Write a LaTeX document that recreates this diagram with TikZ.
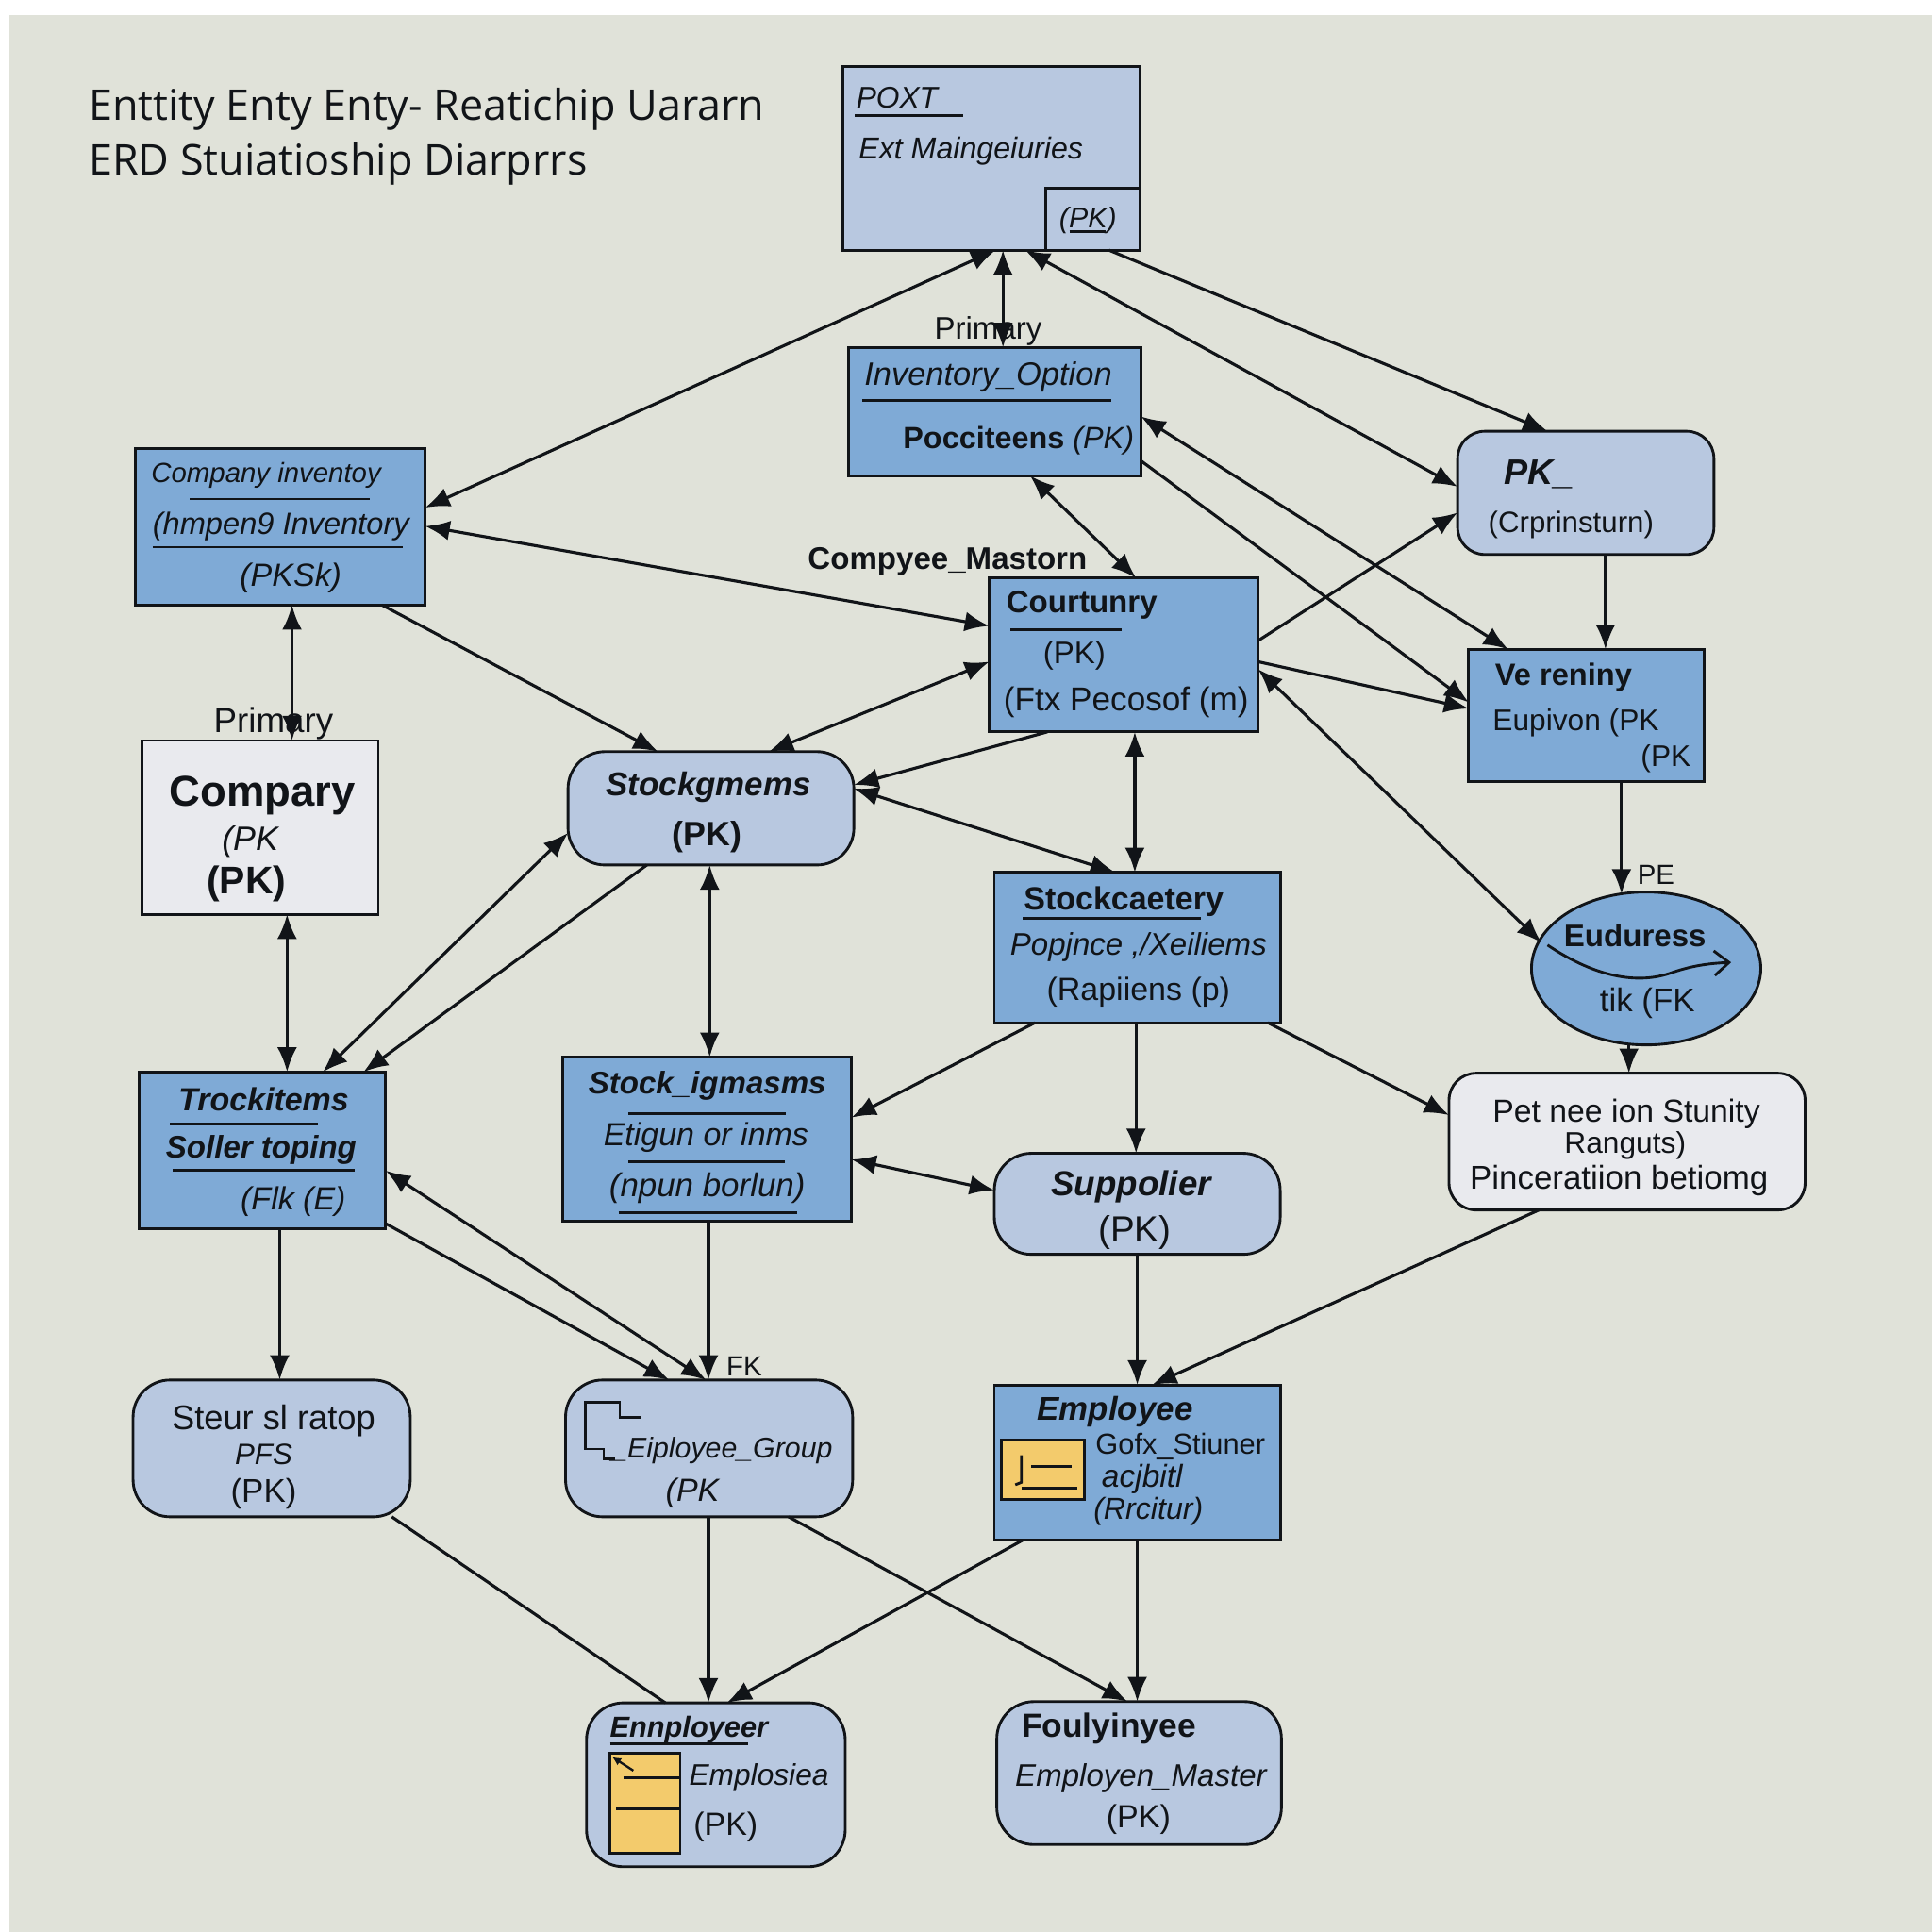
\documentclass[tikz,border=0pt]{standalone}
\usepackage{fontspec}
\setmainfont{Liberation Sans}
\newfontfamily\titlefont{Open Sans}
\usetikzlibrary{arrows.meta,shapes.geometric}
\definecolor{pagebg}{HTML}{E0E2D9}
\definecolor{lightblue}{HTML}{B8C8E0}
\definecolor{midblue}{HTML}{7FAAD6}
\definecolor{paleent}{HTML}{E9EAEE}
\definecolor{keyyellow}{HTML}{F3CB6C}
\definecolor{ink}{HTML}{111418}
\tikzset{
  lab/.style={inner sep=0,outer sep=0,text=ink,yshift=-0.02cm},
  reg/.style={lab,font=\fontsize{#1}{#1}\selectfont},
  bld/.style={lab,font=\fontsize{#1}{#1}\selectfont\bfseries},
  ita/.style={lab,font=\fontsize{#1}{#1}\selectfont\itshape},
  bdi/.style={lab,font=\fontsize{#1}{#1}\selectfont\bfseries\itshape},
  ttl/.style={lab,anchor=west,font=\fontsize{#1}{#1}\selectfont\titlefont},
  ent/.style={draw=ink,line width=0.022cm,inner sep=0,outer sep=0},
  sqblue/.style={ent,rectangle,fill=midblue},
  sqlight/.style={ent,rectangle,fill=lightblue},
  sqpale/.style={ent,rectangle,fill=paleent},
  rdlight/.style={ent,rectangle,rounded corners=0.3cm,fill=lightblue},
  rdsmall/.style={ent,rectangle,rounded corners=0.22cm,fill=lightblue},
  rdpale/.style={ent,rectangle,rounded corners=0.22cm,fill=paleent},
  keybox/.style={ent,rectangle,fill=keyyellow},
  cn/.style={draw=ink,line width=0.024cm},
  one/.style={cn,-{Latex[length=0.2cm,width=0.16cm]}},
  two/.style={cn,{Latex[length=0.2cm,width=0.16cm]}-{Latex[length=0.2cm,width=0.16cm]}},
  rule/.style={draw=ink,line width=0.022cm},
}
\newcommand{\entity}[6]{\node[#2,minimum width={(#5-#3)*0.01cm},minimum height={(#6-#4)*0.01cm}] (#1) at ({(#3+#5)/2},{(#4+#6)/2}) {};}
\newcommand{\lab}[5]{\node[#2] (#1) at (#3,#4) {#5};}
\begin{document}
\begin{tikzpicture}[x=0.01cm,y=-0.01cm]
\useasboundingbox (0,0) rectangle (1568,1568);
\fill[white] (0,0) rectangle (1568,1568);
\fill[pagebg] (8,12) rectangle (1568,1568);

% title
\lab{t1}{ttl=9.78}{72}{87}{Enttity Enty Enty- Reatichip Uararn}
\lab{t2}{ttl=9.78}{72}{131}{ERD Stuiatioship Diarprrs}

% entities
\entity{a}{sqlight}{684}{54}{925}{203}
\entity{a2}{sqlight}{849}{153}{925}{203}
\entity{b}{sqblue}{689}{282}{926}{386}
\entity{c}{sqblue}{110}{364}{345}{491}
\entity{d}{rdsmall}{1183}{350}{1391}{450}
\entity{e}{sqblue}{803}{469}{1021}{594}
\entity{f}{sqblue}{1192}{527}{1383}{634}
\entity{g}{sqpale}{115}{601}{307}{742}
\entity{h}{rdlight}{461}{610}{693}{702}
\entity{i}{sqblue}{807}{708}{1039}{830}
\node[ent,ellipse,fill=midblue,minimum width=1.86cm,minimum height=1.24cm] (j) at (1336,786) {};
\entity{k}{sqblue}{113}{870}{313}{997}
\entity{l}{sqblue}{457}{858}{691}{991}
\entity{m}{rdlight}{807}{936}{1039}{1018}
\entity{n}{rdpale}{1176}{871}{1465}{982}
\entity{o}{rdlight}{108}{1120}{333}{1231}
\entity{p}{rdlight}{459}{1120}{692}{1231}
\entity{q}{sqblue}{807}{1124}{1039}{1250}
\entity{r}{rdlight}{476}{1382}{686}{1515}
\entity{s}{rdlight}{809}{1381}{1040}{1497}
\entity{qk}{keybox}{813}{1169}{880}{1217}
\entity{rk}{keybox}{495}{1423}{552}{1504}

% entity texts
\node[ita=6.9,anchor=west] (a1t) at (695,77) {POXT};
\node[ita=7.0,anchor=west] (a2t) at (697,121) {Ext Maingeiuries};
\lab{a3t}{ita=6.6}{883}{177}{(PK)}
\draw[rule] (694,94) -- (782,94);
\draw[rule] (868,188) -- (897,188);

\lab{b1t}{ita=7.5}{802}{304}{Inventory\_Option}
\draw[rule] (700,325) -- (902,325);
\node[bld=7.05,anchor=west] (b2t) at (733,356) {Pocciteens \normalfont\itshape(PK)};

\lab{c1t}{ita=6.4}{216}{384}{Company inventoy}
\draw[rule] (154,405) -- (300,405);
\lab{c2t}{ita=7.1}{228}{425}{(hmpen9 Inventory}
\draw[rule] (124,444) -- (327,444);
\lab{c3t}{ita=7.4}{236}{467}{(PKSk)}

\lab{d1t}{bdi=8.2}{1249}{383}{PK\_}
\lab{d2t}{reg=6.8}{1275}{424}{(Crprinsturn)}

\lab{e1t}{bld=7.2}{878}{489}{Courtunry}
\draw[rule] (820,511) -- (910,511);
\lab{e2t}{reg=7.2}{872}{530}{(PK)}
\lab{e3t}{reg=7.65}{914}{568}{(Ftx Pecosof (m)}

\lab{f1t}{bld=7.1}{1269}{548}{Ve reniny}
\lab{f2t}{reg=6.9}{1279}{585}{Eupivon (PK}
\lab{f3t}{reg=6.9}{1352}{614}{(PK}

\lab{g1t}{bld=9.9}{213}{644}{Compary}
\lab{g2t}{ita=7.8}{203}{681}{(PK}
\lab{g3t}{bld=8.9}{200}{715}{(PK)}

\lab{h1t}{bdi=7.6}{575}{637}{Stockgmems}
\lab{h2t}{bld=7.8}{574}{677}{(PK)}

\lab{i1t}{bld=7.4}{912}{730}{Stockcaetery}
\draw[rule] (830,745) -- (975,745);
\lab{i2t}{ita=7.2}{924}{767}{Popjnce ,/Xeiliems}
\lab{i3t}{reg=7.4}{924}{803}{(Rapiiens (p)}

\lab{j1t}{bld=7.2}{1327}{757}{Euduress}
\lab{j2t}{reg=7.6}{1337}{812}{tik (FK}
\draw[draw=ink,line width=0.022cm,-{Straight Barb[length=0.12cm,width=0.2cm]}] (1256,767) .. controls (1290,790) and (1325,800) .. (1355,790) .. controls (1372,784) and (1385,782) .. (1405,781);

\lab{k1t}{bdi=7.4}{214}{890}{Trockitems}
\draw[rule] (138,912) -- (258,912);
\lab{k2t}{bdi=7.2}{212}{931}{Soller toping}
\draw[rule] (140,950) -- (288,950);
\lab{k3t}{ita=7.4}{238}{973}{(Flk (E)}

\lab{l1t}{bdi=7.2}{574}{879}{Stock\_igmasms}
\draw[rule] (510,904) -- (638,904);
\lab{l2t}{ita=7.4}{573}{921}{Etigun or inms}
\draw[rule] (510,943) -- (637,943);
\lab{l3t}{ita=7.6}{574}{962}{(npun borlun)}
\draw[rule] (502,984) -- (647,984);

\lab{m1t}{bdi=8}{918}{961}{Suppolier}
\lab{m2t}{reg=8.4}{921}{998}{(PK)}

\lab{n1t}{reg=7.35}{1320}{902}{Pet nee ion Stunity}
\lab{n2t}{reg=6.9}{1319}{928}{Ranguts)}
\lab{n3t}{reg=7.6}{1314}{956}{Pinceratiion betiomg}

\lab{o1t}{reg=7.9}{222}{1151}{Steur sl ratop}
\lab{o2t}{ita=6.8}{214}{1178}{PFS}
\lab{o3t}{reg=7.6}{214}{1210}{(PK)}

\draw[rule] (520,1150) -- (503,1150) -- (503,1138) -- (475,1138) -- (475,1176) -- (490,1176) -- (490,1184) -- (499,1184);
\lab{p1t}{ita=6.6}{586}{1175}{\_Eiployee\_Group}
\lab{p2t}{ita=7.4}{562}{1210}{(PK}

\lab{q1t}{bdi=7.6}{905}{1144}{Employee}
\lab{q2t}{reg=6.7}{958}{1172}{Gofx\_Stiuner}
\lab{q3t}{ita=7.3}{927}{1198}{acjbitl}
\lab{q4t}{ita=7}{932}{1225}{(Rrcitur)}
\draw[rule] (829,1181) -- (829,1203) -- (824,1205);
\draw[rule] (837,1190) -- (870,1190);
\draw[rule] (829,1208) -- (874,1208);

\node[bdi=6.7,anchor=west] (r1t) at (495,1402) {Ennployeer};
\draw[rule] (495,1415) -- (607,1415);
\draw[rule] (506,1443) -- (551,1443);
\draw[rule] (500,1468) -- (551,1468);
\draw[draw=ink,line width=0.018cm,{Latex[length=0.07cm,width=0.07cm]}-] (497,1426) -- (514,1437);
\lab{r2t}{ita=6.9}{616}{1441}{Emplosiea}
\lab{r3t}{reg=7.4}{589}{1481}{(PK)}

\lab{s1t}{bld=7.7}{900}{1401}{Foulyinyee}
\lab{s2t}{ita=7.2}{926}{1441}{Employen\_Master}
\lab{s3t}{reg=7.4}{924}{1475}{(PK)}

% free labels
\lab{l1}{reg=7.2}{802}{267}{Primary}
\lab{l2}{reg=8}{222}{585}{Primary}
\lab{l3}{bld=7.2}{769}{454}{Compyee\_Mastorn}
\lab{l4}{reg=6.4}{1344}{708}{PE}
\lab{l5}{reg=6.4}{604}{1107}{FK}

% connectors
\draw[two] ([shift={(3.5,0)}]a.south) -- ([shift={(0,-15.5)}]c.east);
\draw[two] ([shift={(9.5,0)}]a.south) -- ([shift={(6.5,0)}]b.north);
\draw[two] ([shift={(27.5,0)}]a.south) -- ([shift={(0,-5)}]d.west);
\draw[one] ([shift={(95.5,0)}]a.south) -- ([shift={(-31,0)}]d.north);
\draw[two] ([shift={(0,-0.5)}]c.east) -- ([shift={(0,-23.5)}]e.west);
\draw[one] ([shift={(82.5,0)}]c.south) -- ([shift={(-43,0)}]h.north);
\draw[two] ([shift={(9.5,0)}]c.south) -- ([shift={(26,0)}]g.north);
\draw[two] ([shift={(28.5,0)}]b.south) -- ([shift={(10,0)}]e.north);
\draw[two] ([shift={(0,4)}]b.east) -- ([shift={(-63.5,0)}]f.north);
\draw[one] ([shift={(0,40)}]b.east) -- ([shift={(0,-10.5)}]f.west);
\draw[one] ([shift={(0,-11.5)}]e.east) -- ([shift={(0,16)}]d.west);
\draw[one] ([shift={(0,5.5)}]e.east) -- ([shift={(0,-5.5)}]f.west);
\draw[one] ([shift={(16,0)}]d.south) -- ([shift={(15.5,0)}]f.north);
\draw[two] ([shift={(0,11.5)}]e.east) -- ([shift={(-85,-21)}]j.center);
\draw[one] ([shift={(28.5,0)}]f.south) -- ([shift={(-20,-60.5)}]j.center);
\draw[two] ([shift={(0,5.5)}]e.west) -- ([shift={(47,0)}]h.north);
\draw[one] ([shift={(-62,0)}]e.south) -- ([shift={(0,-19)}]h.east);
\draw[two] ([shift={(0,-16)}]h.east) -- ([shift={(-18,0)}]i.north);
\draw[two] ([shift={(9,0)}]e.south) -- ([shift={(-2,0)}]i.north);
\draw[two] ([shift={(0,20)}]h.west) -- ([shift={(49,0)}]k.north);
\draw[one] ([shift={(-52,0)}]h.south) -- ([shift={(82,0)}]k.north);
\draw[two] ([shift={(-1,0)}]h.south) -- ([shift={(2,0)}]l.north);
\draw[two] ([shift={(22,0)}]g.south) -- ([shift={(20,0)}]k.north);
\draw[one] ([shift={(-83,0)}]i.south) -- ([shift={(0,-17.5)}]l.east);
\draw[one] ([shift={(-1,0)}]i.south) -- ([shift={(-1,0)}]m.north);
\draw[one] ([shift={(106,0)}]i.south) -- ([shift={(0,-21.5)}]n.west);
\draw[one] ([shift={(-14,61)}]j.center) -- ([shift={(1.5,0)}]n.north);
\draw[two] ([shift={(0,16.5)}]l.east) -- ([shift={(0,-11)}]m.west);
\draw[one] ([shift={(14,0)}]k.south) -- ([shift={(6.5,0)}]o.north);
\draw[two] ([shift={(0,16.5)}]k.east) -- ([shift={(-2.5,0)}]p.north);
\draw[one] ([shift={(0,59.5)}]k.east) -- ([shift={(-32.5,0)}]p.north);
\draw[one] ([shift={(1,0)}]l.south) -- ([shift={(-0.5,0)}]p.north);
\draw[one] (m.south) -- (q.north);
\draw[one] ([shift={(-71.5,0)}]n.south) -- ([shift={(12,0)}]q.north);
\draw[one] ([shift={(-0.5,0)}]p.south) -- ([shift={(-6,0)}]r.north);
\draw[one] ([shift={(-93,0)}]q.south) -- ([shift={(9,0)}]r.north);
\draw[cn] ([shift={(97.5,0)}]o.south) -- ([shift={(-41,0)}]r.north);
\draw[one] ([shift={(64.5,0)}]p.south) -- ([shift={(-9.5,0)}]s.north);
\draw[one] (q.south) -- ([shift={(-1.5,0)}]s.north);
\end{tikzpicture}
\end{document}
